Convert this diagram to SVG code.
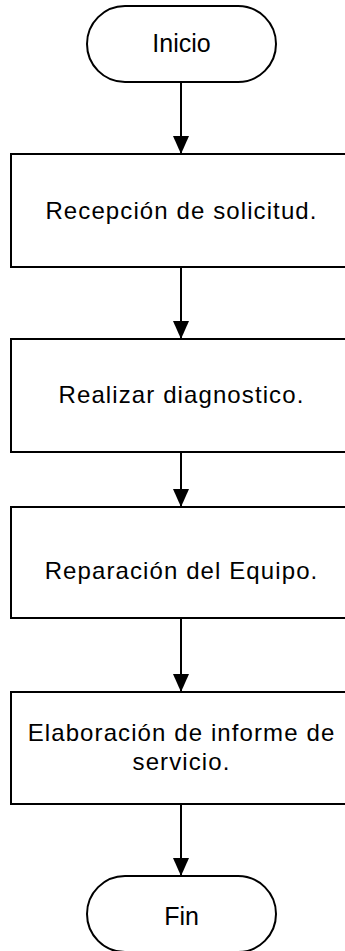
<svg xmlns="http://www.w3.org/2000/svg" width="345" height="951" viewBox="0 0 345 951">
<style>
.shape{fill:#fff;stroke:#000;stroke-width:2}
.lbl{font-family:"Liberation Sans",Arial,sans-serif;font-size:24px;fill:#000;text-anchor:middle}
.term{font-size:25px}
.box{letter-spacing:1.1px}
.edge{stroke:#000;stroke-width:2;fill:none;marker-end:url(#ah)}
</style>
<defs>
<marker id="ah" markerUnits="userSpaceOnUse" markerWidth="18" markerHeight="16" refX="18" refY="8" orient="auto">
<path d="M0,0 L18,8 L0,16 Z" fill="#000"/>
</marker>
</defs>
<rect width="345" height="951" fill="#fff"/>
<g id="edges">
<line class="edge" x1="181" y1="82" x2="181" y2="154"/>
<line class="edge" x1="181" y1="267" x2="181" y2="339"/>
<line class="edge" x1="181" y1="452" x2="181" y2="507"/>
<line class="edge" x1="181" y1="618" x2="181" y2="692"/>
<line class="edge" x1="181" y1="804" x2="181" y2="876"/>
</g>
<g id="inicio">
<rect class="shape" x="87" y="6" width="189" height="76" rx="38" ry="38"/>
<text class="lbl term" x="181.5" y="52">Inicio</text>
</g>
<g id="recepcion">
<rect class="shape" x="11" y="154" width="340" height="113"/>
<text class="lbl box" x="181.5" y="219">Recepción de solicitud.</text>
</g>
<g id="diagnostico">
<rect class="shape" x="11" y="339" width="340" height="113"/>
<text class="lbl box" x="181.5" y="403">Realizar diagnostico.</text>
</g>
<g id="reparacion">
<rect class="shape" x="11" y="507" width="340" height="111"/>
<text class="lbl box" x="181.5" y="579">Reparación del Equipo.</text>
</g>
<g id="informe">
<rect class="shape" x="11" y="692" width="340" height="112"/>
<text class="lbl box" x="181.5" y="741">Elaboración de informe de</text>
<text class="lbl box" x="181.5" y="770">servicio.</text>
</g>
<g id="fin">
<rect class="shape" x="87" y="876" width="189" height="76" rx="38" ry="38"/>
<text class="lbl term" x="181.5" y="925">Fin</text>
</g>
</svg>
